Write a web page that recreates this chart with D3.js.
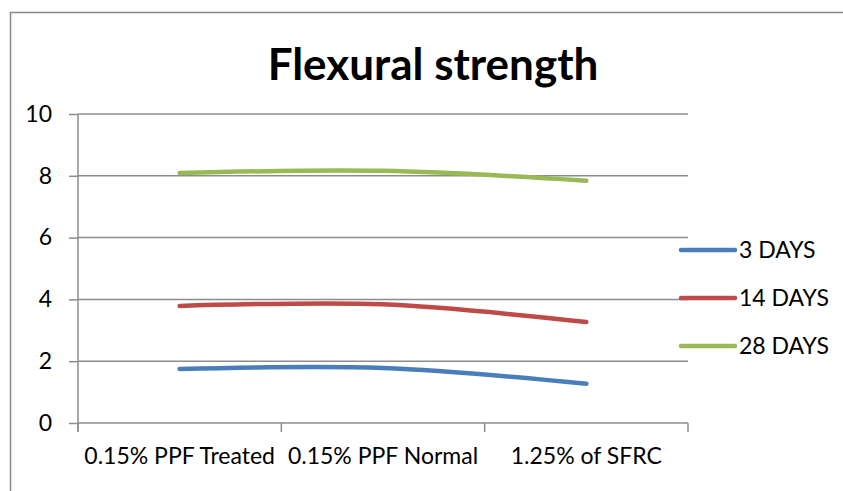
<!DOCTYPE html>
<html>
<head>
<meta charset="utf-8">
<script src="https://cdn.jsdelivr.net/npm/d3@7"></script>
<style>
  html, body { margin: 0; padding: 0; background: #fff; }
  svg { display: block; font-family: Lato, "Open Sans", sans-serif; }
</style>
</head>
<body>
<svg id="chart" width="843" height="491"></svg>
<script>
// Flexural strength (MPa) by mix and curing age
const categories = ["0.15% PPF Treated", "0.15% PPF Normal", "1.25% of SFRC"];
const seriesNames = ["3 DAYS", "14 DAYS", "28 DAYS"];
const days3 = [1.75, 1.78, 1.27];
const days14 = [3.79, 3.84, 3.27];
const days28 = [8.09, 8.16, 7.84];
const yTicks = [0, 2, 4, 6, 8, 10];
const colors = ["#4a7ebb", "#be4b48", "#98b954"];

const series = [days3, days14, days28].map((vals, i) => ({
  name: seriesNames[i], values: vals, color: colors[i]
}));

const svg = d3.select("#chart");
const plotL = 78, plotR = 688, plotT = 114, plotB = 423;
const labelSize = 23;

// outer chart frame
svg.append("path")
  .attr("d", "M10.5,491 V12.5 H843")
  .attr("fill", "none").attr("stroke", "#888").attr("stroke-width", 1.5);

svg.append("text")
  .attr("x", 433).attr("y", 80)
  .attr("text-anchor", "middle")
  .attr("font-size", 44).attr("font-weight", "bold")
  .attr("fill", "#000")
  .text("Flexural strength");

const x = d3.scaleBand().domain(categories).range([plotL, plotR]);
const y = d3.scaleLinear().domain([0, 10]).range([plotB, plotT]);

// horizontal gridlines
svg.append("g").selectAll("line").data(yTicks.filter(d => d > 0)).join("line")
  .attr("x1", plotL).attr("x2", plotR)
  .attr("y1", d => y(d)).attr("y2", d => y(d))
  .attr("stroke", "#8c8c8c").attr("stroke-width", 1.5);

// y axis
const yAxis = svg.append("g").attr("transform", `translate(${plotL},0)`)
  .call(d3.axisLeft(y).tickValues(yTicks).tickSize(9).tickPadding(17));
yAxis.select(".domain").attr("stroke", "#8c8c8c").attr("stroke-width", 1.5)
  .attr("d", `M0,${plotB + 8}V${plotT}`);
yAxis.selectAll(".tick line").attr("stroke", "#8c8c8c").attr("stroke-width", 1.5);
yAxis.selectAll(".tick text").attr("font-size", labelSize).attr("fill", "#000")
  .attr("font-family", "Lato, 'Open Sans', sans-serif");

// x axis with boundary ticks between categories
const xAxis = svg.append("g").attr("transform", `translate(0,${plotB})`);
xAxis.append("line").attr("x1", plotL).attr("x2", plotR)
  .attr("stroke", "#8c8c8c").attr("stroke-width", 1.5);
const bounds = categories.map(c => x(c)).concat([plotR]);
xAxis.selectAll(".bt").data(bounds).join("line").attr("class", "bt")
  .attr("x1", d => d).attr("x2", d => d).attr("y1", 0).attr("y2", 9)
  .attr("stroke", "#8c8c8c").attr("stroke-width", 1.5);
xAxis.selectAll(".lbl").data(categories).join("text").attr("class", "lbl")
  .attr("x", d => x(d) + x.bandwidth() / 2).attr("y", 41)
  .attr("text-anchor", "middle").attr("font-size", labelSize).attr("fill", "#000")
  .text(d => d);

// smoothed series lines
const line = d3.line()
  .x((d, i) => x(categories[i]) + x.bandwidth() / 2)
  .y(d => y(d))
  .curve(d3.curveCatmullRom.alpha(0.5));

svg.append("g").selectAll("path").data(series).join("path")
  .attr("d", d => line(d.values))
  .attr("fill", "none").attr("stroke", d => d.color)
  .attr("stroke-width", 4.5).attr("stroke-linecap", "round");

// legend
const lg = svg.append("g").selectAll("g").data(series).join("g")
  .attr("transform", (d, i) => `translate(681,${250 + i * 48})`);
lg.append("line").attr("x1", 0).attr("x2", 54)
  .attr("stroke", d => d.color).attr("stroke-width", 4.5).attr("stroke-linecap", "round");
lg.append("text").attr("x", 58).attr("y", 8)
  .attr("font-size", labelSize).attr("fill", "#000").text(d => d.name);
</script>
</body>
</html>
